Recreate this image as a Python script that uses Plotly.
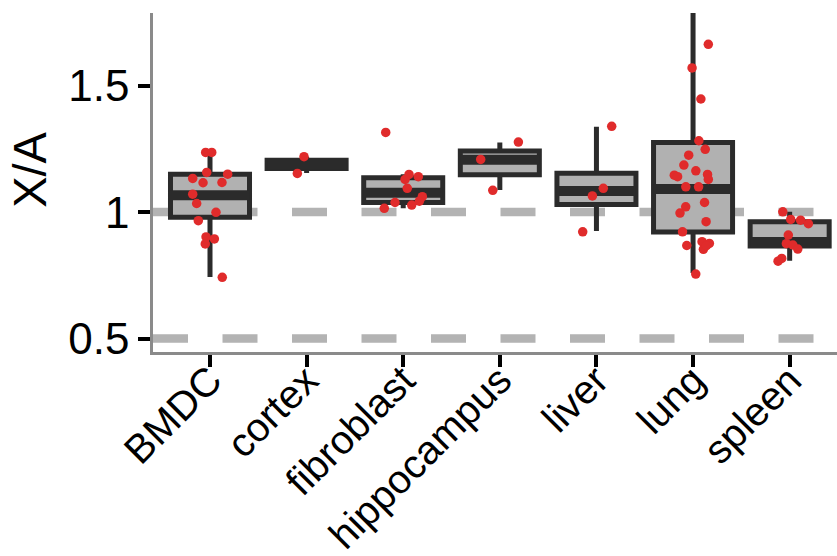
import plotly.graph_objects as go

# Sample categories and their summary statistics
categories = ["BMDC", "cortex", "fibroblast", "hippocampus", "liver", "lung", "spleen"]
q1 = [0.980, 1.172, 1.038, 1.148, 1.030, 0.921, 0.866]
median = [1.067, 1.188, 1.076, 1.207, 1.083, 1.091, 0.882]
q3 = [1.150, 1.205, 1.136, 1.242, 1.154, 1.275, 0.962]
whisker_low = [0.743, 1.155, 1.015, 1.087, 0.925, 0.759, 0.808]
whisker_high = [1.245, 1.219, 1.150, 1.275, 1.337, 1.850, 1.001]

# Individual X/A ratios per sample (category index, horizontal jitter, value)
bmdc_vals = [1.236, 1.236, 1.157, 1.150, 1.133, 1.116, 1.117, 1.071, 1.034, 0.999,
             0.966, 0.902, 0.894, 0.874, 0.742]
bmdc_jit = [-0.045, 0.018, -0.034, 0.183, -0.179, -0.072, 0.124, -0.179, -0.138, 0.062,
            -0.121, -0.041, 0.045, -0.049, 0.127]
cortex_vals = [1.219, 1.153]
cortex_jit = [-0.027, -0.096]
fibro_vals = [1.315, 1.149, 1.140, 1.129, 1.094, 1.061, 1.043, 1.038, 1.028, 1.015]
fibro_jit = [-0.181, 0.060, 0.156, 0.019, 0.042, 0.198, 0.167, -0.085, 0.088, -0.196]
hippo_vals = [1.277, 1.208, 1.086]
hippo_jit = [0.192, -0.198, -0.073]
liver_vals = [1.339, 1.094, 1.064, 0.922]
liver_jit = [0.158, 0.071, -0.042, -0.142]
lung_vals = [1.663, 1.570, 1.447, 1.282, 1.248, 1.225, 1.186, 1.163, 1.146, 1.140,
             1.149, 1.129, 1.100, 1.100, 1.038, 1.021, 0.996, 0.962, 0.922, 0.868,
             0.883, 0.876, 0.853, 0.867, 0.755]
lung_jit = [0.158, -0.010, 0.081, 0.060, 0.126, -0.045, -0.095, 0.029, -0.194, -0.160,
            0.150, 0.158, -0.075, 0.057, 0.119, -0.076, -0.135, 0.135, -0.109, -0.065,
            0.093, 0.169, 0.107, 0.138, 0.028]
spleen_vals = [1.001, 0.971, 0.968, 0.954, 0.909, 0.875, 0.870, 0.854, 0.817, 0.806]
spleen_jit = [-0.071, 0.011, 0.113, 0.194, -0.014, -0.034, 0.033, 0.084, -0.082, -0.120]

point_vals = [bmdc_vals, cortex_vals, fibro_vals, hippo_vals, liver_vals, lung_vals, spleen_vals]
point_jit = [bmdc_jit, cortex_jit, fibro_jit, hippo_jit, liver_jit, lung_jit, spleen_jit]

reference_levels = [1.0, 0.5]

DARK = "#2b2b2b"
BOX_FILL = "#b1b1b1"
POINT = "#e02b2b"
BOX_W = 0.818
FONT = "Liberation Sans, Arial, Helvetica, sans-serif"

idx = list(range(len(categories)))

fig = go.Figure()

fig.add_trace(go.Box(
    x=idx, q1=q1, median=median, q3=q3,
    lowerfence=whisker_low, upperfence=whisker_high,
    width=BOX_W, whiskerwidth=0, boxpoints=False,
    line=dict(color=DARK, width=5), fillcolor=BOX_FILL,
    hoverinfo="skip", showlegend=False,
))

# thick median bars
mx, my = [], []
for i, m in zip(idx, median):
    mx += [i - BOX_W / 2, i + BOX_W / 2, None]
    my += [m, m, None]
fig.add_trace(go.Scatter(x=mx, y=my, mode="lines",
                         line=dict(color=DARK, width=10),
                         hoverinfo="skip", showlegend=False))

# jittered sample points
px, py = [], []
for i, vals, jit in zip(idx, point_vals, point_jit):
    px += [i + j for j in jit]
    py += vals
fig.add_trace(go.Scatter(x=px, y=py, mode="markers",
                         marker=dict(color=POINT, size=9.5, line=dict(width=0)),
                         hoverinfo="skip", showlegend=False))

for lvl in reference_levels:
    fig.add_shape(type="line", xref="paper", x0=0, x1=1, yref="y", y0=lvl, y1=lvl,
                  line=dict(color="#b3b3b3", width=8.5, dash="35px,34.5px"),
                  layer="below")

fig.add_annotation(text="X/A", xref="paper", yref="paper", x=-0.18, y=0.537,
                   xanchor="center", yanchor="middle", textangle=-90, showarrow=False,
                   font=dict(family=FONT, size=47, color="black"))

fig.update_layout(
    width=837, height=556,
    margin=dict(l=153, r=0, t=13, b=204, autoexpand=False),
    paper_bgcolor="white", plot_bgcolor="white",
    font=dict(family=FONT, color="black"),
    showlegend=False,
)
fig.update_xaxes(
    range=[-0.59, 6.49], tickmode="array", tickvals=idx, ticktext=categories,
    tickangle=-45, tickfont=dict(size=40, color="black", family=FONT),
    ticklabelstandoff=-26,
    showline=True, linecolor="#8a8a8a", linewidth=2.5,
    ticks="outside", ticklen=12, tickwidth=4, tickcolor="black",
    showgrid=False, zeroline=False, automargin=False,
)
fig.update_yaxes(
    range=[0.447, 1.787], tickmode="array", tickvals=[0.5, 1, 1.5],
    ticktext=["0.5", "1", "1.5"], tickfont=dict(size=44, color="black", family=FONT),
    showline=True, linecolor="#8a8a8a", linewidth=2.5,
    ticks="outside", ticklen=12, tickwidth=4, tickcolor="black",
    showgrid=False, zeroline=False, automargin=False,
)

fig.write_html("out.html")
